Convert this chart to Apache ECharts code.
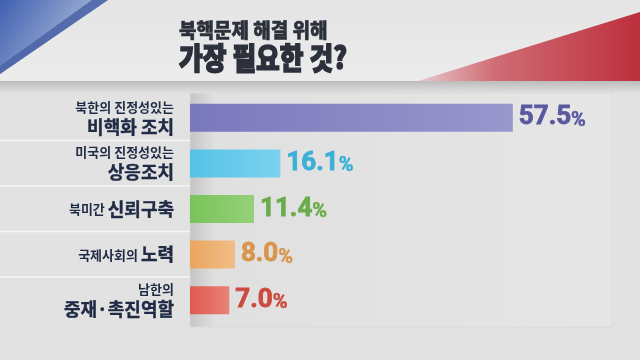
<!DOCTYPE html>
<html><head><meta charset="utf-8">
<script src="https://cdn.jsdelivr.net/npm/echarts@6/dist/echarts.min.js"></script>
<style>html,body{margin:0;padding:0;background:#e2e2e2;}#c{width:640px;height:360px;}</style>
</head><body><div id="c"></div>
<script>
var titleLine1 = '북핵문제 해결 위해';
var titleLine2 = '가장 필요한 것?';
var categories = ['북한의 진정성있는\n비핵화 조치', '미국의 진정성있는\n상응조치', '북미간 신뢰구축', '국제사회의 노력', '남한의\n중재·촉진역할'];
var values = [57.5, 16.1, 11.4, 8.0, 7.0];
var barColors = [['#7a78bd','#9997cc'],['#55c2e6','#7ad3ef'],['#79c35a','#95d17a'],['#eaa55e','#f0bd86'],['#de5a50','#e98276']];
var textColors = ['#5a58a0','#3aafd8','#6aac4c','#d8964c','#cc4a40'];

var KFONT = '"Noto Sans CJK KR", sans-serif';
var NFONT = '"Liberation Sans Narrow", "Roboto", sans-serif';

function catFormatter(v){
  var lines = v.split('\n');
  if (lines.length === 2) return '{s|' + lines[0] + '}\n{b|' + lines[1] + '}';
  var i = v.lastIndexOf(' ');
  return '{s|' + v.slice(0, i + 1) + '}{b|' + v.slice(i + 1) + '}';
}

var chart = echarts.init(document.getElementById('c'), null, {renderer:'canvas'});
var data = values.map(function(v, i){
  return {
    value: v,
    itemStyle: {color: new echarts.graphic.LinearGradient(0,0,1,0,[{offset:0,color:barColors[i][0]},{offset:1,color:barColors[i][1]}])},
    label: {rich: {n:{color:textColors[i], textBorderColor:textColors[i]}, p:{color:textColors[i], textBorderColor:textColors[i]}}}
  };
});

chart.setOption({
  backgroundColor: '#e2e2e2',
  animation: false,
  graphic: [
    {type:'rect', shape:{x:0,y:80,width:640,height:14}, z:0,
      style:{fill:new echarts.graphic.LinearGradient(0,0,0,1,[{offset:0,color:'#b9b9b9'},{offset:1,color:'#e2e2e2'}])}},
    {type:'rect', shape:{x:0,y:0,width:640,height:81}, z:0,
      style:{fill:new echarts.graphic.LinearGradient(0,0,0,1,[{offset:0,color:'#e4e4e4'},{offset:1,color:'#ececec'}])}},
    {type:'polygon', z:1, shape:{points:[[0,0],[108,0],[0,74]]},
      style:{fill:new echarts.graphic.LinearGradient(0,0,1,1,[{offset:0,color:'#3f5fb0'},{offset:0.55,color:'#8fa3cf'},{offset:1,color:'#e8e8ee'}])}},
    {type:'polygon', z:2, shape:{points:[[92,0],[108,0],[0,74],[0,66]]},
      style:{fill:'#4a63a6', opacity:0.85}},
    {type:'polygon', z:1, shape:{points:[[640,12],[640,81],[418,81]]},
      style:{fill:new echarts.graphic.LinearGradient(0,0,1,0,[{offset:0,color:'#e9c9cc'},{offset:0.35,color:'#cf6c74'},{offset:1,color:'#bd2f3c'}])}},
    {type:'text', z:5, x:179, y:20, scaleX:0.95, style:{text:titleLine1, font:'900 20px ' + KFONT, fill:'#2b303b', stroke:'#2b303b', lineWidth:0.5}},
    {type:'text', z:5, x:179, y:43, scaleX:0.86, style:{text:titleLine2, font:'900 30px ' + KFONT, fill:'#2b303b', stroke:'#2b303b', lineWidth:1.4}},
    {type:'rect', z:0, shape:{x:190,y:93,width:422,height:234},
      style:{fill:new echarts.graphic.LinearGradient(0,0,1,0,[{offset:0,color:'#c4c4c4'},{offset:0.06,color:'#e0e0e0'},{offset:1,color:'#e6e6e6'}]), stroke:'#dadada', lineWidth:1}},
    {type:'line', z:1, shape:{x1:0,y1:140.5,x2:190,y2:140.5}, style:{stroke:'#f6f6f6', lineWidth:1.5}},
    {type:'line', z:1, shape:{x1:0,y1:186,x2:190,y2:186}, style:{stroke:'#f6f6f6', lineWidth:1.5}},
    {type:'line', z:1, shape:{x1:0,y1:231.5,x2:190,y2:231.5}, style:{stroke:'#f6f6f6', lineWidth:1.5}},
    {type:'line', z:1, shape:{x1:0,y1:277,x2:190,y2:277}, style:{stroke:'#f6f6f6', lineWidth:1.5}}
  ],
  grid: {left:190, top:95, width:393, height:228, containLabel:false},
  xAxis: {type:'value', min:0, max:70, show:false},
  yAxis: {
    type:'category', data:categories, inverse:true,
    axisLine:{show:false}, axisTick:{show:false}, splitLine:{show:false},
    axisLabel:{
      margin:16, align:'right', formatter:catFormatter,
      rich:{
        s:{fontFamily:KFONT, fontSize:13, fontWeight:'bold', color:'#1f2a44', lineHeight:18, align:'right'},
        b:{fontFamily:KFONT, fontSize:18, fontWeight:'bold', color:'#1f2a44', lineHeight:22, align:'right', textBorderColor:'#1f2a44', textBorderWidth:0.4}
      }
    }
  },
  series: [{
    type:'bar', data:data, barWidth:28, z:3,
    label:{
      show:true, position:'right', distance:6,
      formatter:function(p){ return '{n|' + p.value.toFixed(1) + '}{p|%}'; },
      rich:{
        n:{fontFamily:NFONT, fontSize:26, fontWeight:'bold', verticalAlign:'bottom', textBorderWidth:0.8},
        p:{fontFamily:NFONT, fontSize:20, fontWeight:'bold', verticalAlign:'bottom', textBorderWidth:0.5}
      }
    }
  }]
});
</script></body></html>
